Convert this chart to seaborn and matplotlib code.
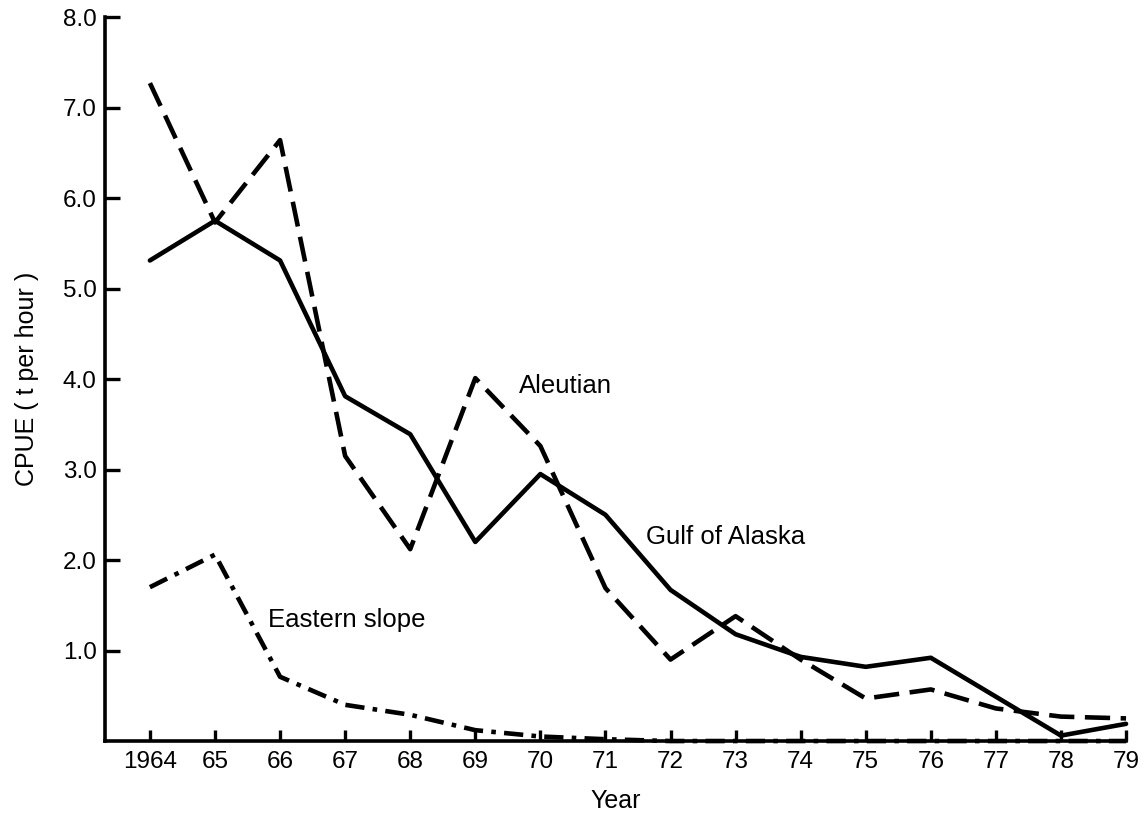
import matplotlib
matplotlib.use("Agg")
import matplotlib.pyplot as plt
import seaborn as sns
import pandas as pd

# CPUE (t per hour) by fishing ground, 1964-1979
years = list(range(1964, 1980))
year_labels = ["1964"] + [f"{y % 100}" for y in years[1:]]

gulf_of_alaska = [5.31, 5.75, 5.31, 3.81, 3.39, 2.20, 2.95, 2.50,
                  1.67, 1.18, 0.93, 0.82, 0.92, 0.49, 0.06, 0.19]
aleutian = [7.27, 5.73, 6.64, 3.15, 2.12, 4.01, 3.26, 1.69,
            0.90, 1.38, 0.90, 0.47, 0.57, 0.36, 0.27, 0.25]
eastern_slope = [1.70, 2.06, 0.71, 0.40, 0.29, 0.12, 0.05, 0.02,
                 0.0, 0.0, 0.0, 0.0, 0.0, 0.0, 0.0, 0.0]

series_names = ["Gulf of Alaska", "Aleutian", "Eastern slope"]
y_ticks = [1.0, 2.0, 3.0, 4.0, 5.0, 6.0, 7.0, 8.0]

df = pd.concat([
    pd.DataFrame({"Year": years, "CPUE": vals, "Area": name})
    for name, vals in zip(series_names, [gulf_of_alaska, aleutian, eastern_slope])
], ignore_index=True)

sns.set_style("ticks")
plt.rcParams["font.family"] = ["Liberation Sans", "DejaVu Sans"]
plt.rcParams["text.color"] = "black"
plt.rcParams["axes.labelcolor"] = "black"

fig = plt.figure(figsize=(11.44, 8.19), dpi=100)
ax = fig.add_axes([0.0918, 0.0952, 0.8925, 0.884])

dash_styles = {
    "Gulf of Alaska": "",
    "Aleutian": (5.5, 2.3),
    "Eastern slope": (4.2, 1.8, 1.0, 1.8),
}
sns.lineplot(data=df, x="Year", y="CPUE", hue="Area", style="Area",
             palette={n: "black" for n in series_names}, dashes=dash_styles,
             linewidth=3.3, legend=False, ax=ax, clip_on=False)

ax.set_xlim(1963.31, 1979.0)
ax.set_ylim(0, 8.0)
ax.set_xticks(years)
ax.set_xticklabels(year_labels)
ax.set_yticks(y_ticks)
ax.set_yticklabels([f"{v:.1f}" for v in y_ticks])

ax.tick_params(axis="both", direction="in", width=2.4, labelsize=17.5,
               colors="black", labelcolor="black")
ax.tick_params(axis="y", length=11, pad=6)
ax.tick_params(axis="x", length=8, pad=7)

sns.despine(ax=ax, top=True, right=True)
for side in ("left", "bottom"):
    ax.spines[side].set_linewidth(2.6)
    ax.spines[side].set_color("black")

ax.set_xlabel("Year", fontsize=18, labelpad=12)
ax.set_ylabel("CPUE ( t per hour )", fontsize=18, labelpad=17)

ax.text(1969.67, 3.92, "Aleutian", fontsize=18.5, va="center", ha="left")
ax.text(1971.62, 2.26, "Gulf of Alaska", fontsize=18.5, va="center", ha="left")
ax.text(1965.81, 1.34, "Eastern slope", fontsize=18.5, va="center", ha="left")

fig.savefig("out.png", dpi=100, facecolor="white")
